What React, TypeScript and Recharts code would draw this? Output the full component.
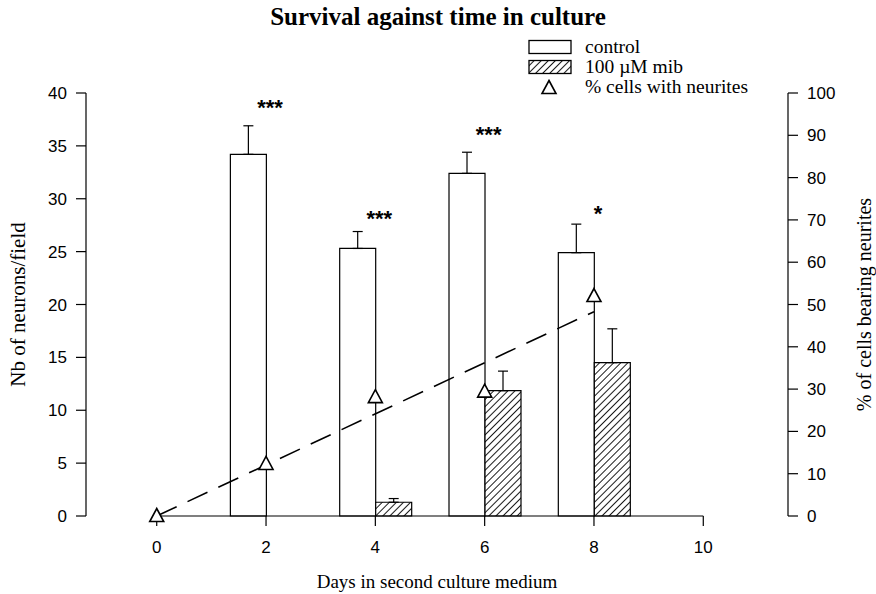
import {
  ComposedChart,
  Bar,
  Line,
  Scatter,
  XAxis,
  YAxis,
  ErrorBar,
  ReferenceLine,
  Legend,
} from "recharts";

const days = [0, 2, 4, 6, 8];
const control = [null, 34.2, 25.3, 32.4, 24.9];
const controlErr = [null, 2.7, 1.6, 2.0, 2.7];
const mib = [null, null, 1.3, 11.85, 14.5];
const mibErr = [null, null, 0.35, 1.85, 3.2];
const pctNeurites = [0, 12.3, 28.1, 29.4, 52];
const fitLine = [0, null, null, null, 48.3];
const signif = ["", "***", "***", "***", "*"];
const signifY = [null, 38.8, 28.3, 36.2, 28.7];

const xTicks = [0, 2, 4, 6, 8, 10];
const leftTicks = [0, 5, 10, 15, 20, 25, 30, 35, 40];
const rightTicks = [0, 10, 20, 30, 40, 50, 60, 70, 80, 90, 100];

const data = days.map((d, i) => ({
  day: d,
  control: control[i],
  controlErr: controlErr[i] == null ? null : [0, controlErr[i]],
  mib: mib[i],
  mibErr: mibErr[i] == null ? null : [0, mibErr[i]],
  pct: pctNeurites[i],
  fit: fitLine[i],
  sig: signif[i],
  sigY: signifY[i],
}));

const SANS = "'Liberation Sans', Arial, sans-serif";
const SERIF = "'Liberation Serif', 'Times New Roman', serif";
const tickStyle = { fill: "#000", fontSize: 17, fontFamily: SANS };

function Triangle(props: any) {
  const { cx, cy } = props;
  if (cx == null || cy == null) return null;
  return (
    <path
      d={`M${cx},${cy - 7.5} L${cx + 7},${cy + 5.5} L${cx - 7},${cy + 5.5} Z`}
      fill="#fff"
      stroke="#000"
      strokeWidth={1.6}
    />
  );
}

function Stars(props: any) {
  const { cx, cy, payload } = props;
  if (cx == null || cy == null || !payload.sig) return null;
  return (
    <text
      x={cx + 4}
      y={cy + 9}
      textAnchor="middle"
      fontSize={22}
      fontWeight="bold"
      fontFamily={SANS}
      fill="#000"
    >
      {payload.sig}
    </text>
  );
}

function LegendBox() {
  const row = { display: "flex", alignItems: "center", height: 20 };
  const text = { fontFamily: SERIF, fontSize: 19.5, color: "#000", marginLeft: 13 };
  return (
    <div>
      <div style={row}>
        <svg width={44} height={16}>
          <rect x={1} y={1.5} width={42} height={13} fill="#fff" stroke="#000" strokeWidth={1.3} />
        </svg>
        <span style={text}>control</span>
      </div>
      <div style={row}>
        <svg width={44} height={16}>
          <defs>
            <pattern id="hatchLegend" width={5} height={5} patternUnits="userSpaceOnUse" patternTransform="rotate(45)">
              <line x1={0} y1={0} x2={0} y2={5} stroke="#000" strokeWidth={1.8} />
            </pattern>
          </defs>
          <rect x={1} y={1.5} width={42} height={13} fill="url(#hatchLegend)" stroke="#000" strokeWidth={1.3} />
        </svg>
        <span style={text}>100 µM mib</span>
      </div>
      <div style={row}>
        <svg width={44} height={16}>
          <Triangle cx={21} cy={9} />
        </svg>
        <span style={text}>% cells with neurites</span>
      </div>
    </div>
  );
}

export default function App() {
  return (
    <div style={{ position: "absolute", left: 0, top: 0, width: 876, height: 594, background: "#fff" }}>
      <div
        style={{
          position: "absolute",
          top: 3,
          left: 0,
          width: 876,
          textAlign: "center",
          fontFamily: SERIF,
          fontWeight: "bold",
          fontSize: 25,
          color: "#000",
        }}
      >
        Survival against time in culture
      </div>
      <ComposedChart
        width={876}
        height={594}
        data={data}
        margin={{ top: 93, right: 0, bottom: 0, left: 0 }}
        barGap={0}
      >
        <defs>
          <pattern id="hatch" width={5} height={5} patternUnits="userSpaceOnUse" patternTransform="rotate(45)">
            <rect width={5} height={5} fill="#fff" />
            <line x1={0} y1={0} x2={0} y2={5} stroke="#000" strokeWidth={1.8} />
          </pattern>
        </defs>
        <XAxis
          dataKey="day"
          type="number"
          domain={[-1.294, 11.55]}
          ticks={xTicks}
          axisLine={false}
          tickLine={{ stroke: "#000", strokeWidth: 1.2 }}
          tickSize={10}
          tickMargin={15}
          tick={tickStyle}
          height={78}
          label={{
            value: "Days in second culture medium",
            position: "insideBottom",
            offset: 6,
            style: { fill: "#000", fontFamily: SERIF, fontSize: 19 },
          }}
        />
        <YAxis
          yAxisId="left"
          domain={[0, 40]}
          ticks={leftTicks}
          width={86}
          axisLine={{ stroke: "#000", strokeWidth: 1.2 }}
          tickLine={{ stroke: "#000", strokeWidth: 1.2 }}
          tickSize={10}
          tickMargin={9}
          tick={tickStyle}
          label={{
            value: "Nb of neurons/field",
            angle: -90,
            position: "insideLeft",
            offset: 18,
            style: { textAnchor: "middle", fill: "#000", fontFamily: SERIF, fontSize: 21 },
          }}
        />
        <YAxis
          yAxisId="right"
          orientation="right"
          domain={[0, 100]}
          ticks={rightTicks}
          width={88}
          axisLine={{ stroke: "#000", strokeWidth: 1.2 }}
          tickLine={{ stroke: "#000", strokeWidth: 1.2 }}
          tickSize={10}
          tickMargin={9}
          tick={{ ...tickStyle, textAnchor: "start" }}
          label={{
            value: "% of cells bearing neurites",
            angle: -90,
            position: "insideRight",
            offset: 12,
            style: { textAnchor: "middle", fill: "#000", fontFamily: SERIF, fontSize: 20 },
          }}
        />
        <ReferenceLine
          yAxisId="left"
          segment={[
            { x: 0, y: 0 },
            { x: 10, y: 0 },
          ]}
          stroke="#000"
          strokeWidth={1.2}
        />
        <Bar
          yAxisId="left"
          dataKey="control"
          barSize={36}
          fill="#fff"
          stroke="#000"
          strokeWidth={1.2}
          isAnimationActive={false}
        >
          <ErrorBar dataKey="controlErr" direction="y" width={5} stroke="#000" strokeWidth={1.2} />
        </Bar>
        <Bar
          yAxisId="left"
          dataKey="mib"
          barSize={36}
          fill="url(#hatch)"
          stroke="#000"
          strokeWidth={1.2}
          isAnimationActive={false}
        >
          <ErrorBar dataKey="mibErr" direction="y" width={5} stroke="#000" strokeWidth={1.2} />
        </Bar>
        <Line
          yAxisId="right"
          dataKey="fit"
          connectNulls
          stroke="#000"
          strokeWidth={1.6}
          strokeDasharray="22 12"
          dot={false}
          activeDot={false}
          isAnimationActive={false}
        />
        <Scatter yAxisId="right" dataKey="pct" shape={<Triangle />} isAnimationActive={false} />
        <Scatter yAxisId="left" dataKey="sigY" shape={<Stars />} isAnimationActive={false} />
        <Legend
          layout="vertical"
          align="center"
          verticalAlign="middle"
          content={() => <LegendBox />}
          wrapperStyle={{ position: "absolute", top: 37, left: 528, width: 280 }}
        />
      </ComposedChart>
    </div>
  );
}
